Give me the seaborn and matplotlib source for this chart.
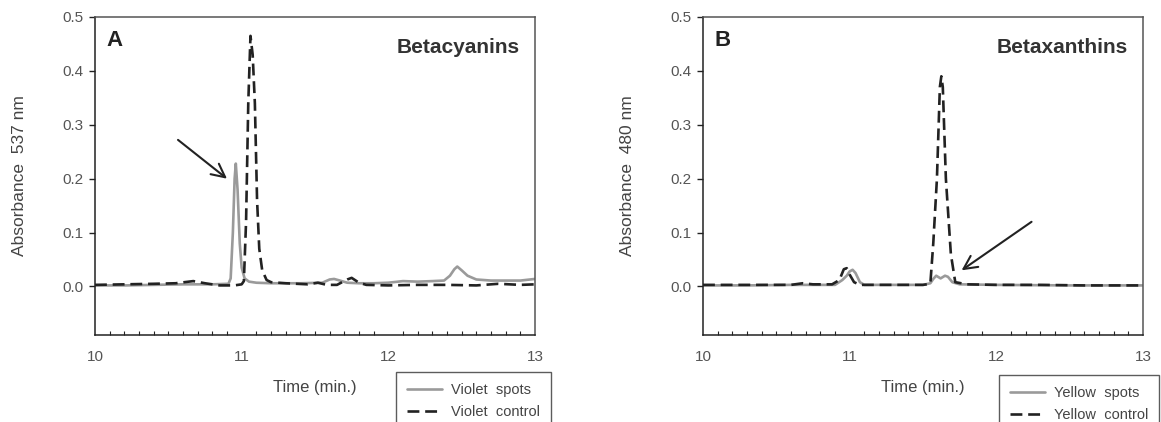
import numpy as np
import pandas as pd
import matplotlib
matplotlib.use('Agg')
import matplotlib.pyplot as plt
from matplotlib.ticker import MultipleLocator
import seaborn as sns

# Panel A - betacyanins, absorbance at 537 nm
t_violet_spots = [10.0, 10.2, 10.4, 10.6, 10.8, 10.91, 10.925, 10.94, 10.952, 10.96, 10.972, 10.987, 11.0,
                  11.02, 11.05, 11.1, 11.2, 11.4, 11.55, 11.6, 11.63, 11.67, 11.72, 11.8, 11.9,
                  12.0, 12.1, 12.2, 12.3, 12.38, 12.42, 12.45, 12.47, 12.5, 12.54, 12.6, 12.7,
                  12.8, 12.9, 13.0]
a_violet_spots = [0.002, 0.002, 0.003, 0.004, 0.004, 0.005, 0.015, 0.1, 0.2, 0.228, 0.18, 0.08, 0.035,
                  0.015, 0.009, 0.007, 0.006, 0.006, 0.007, 0.013, 0.014, 0.011, 0.007, 0.006, 0.006,
                  0.007, 0.01, 0.009, 0.01, 0.011, 0.02, 0.032, 0.037, 0.03, 0.02, 0.013, 0.011,
                  0.011, 0.011, 0.014]

t_violet_control = [10.0, 10.2, 10.4, 10.55, 10.67, 10.75, 10.85, 10.95, 11.0, 11.015, 11.03, 11.045,
                    11.06, 11.075, 11.09, 11.105, 11.12, 11.14, 11.17, 11.2, 11.3, 11.45, 11.52,
                    11.58, 11.65, 11.72, 11.75, 11.8, 11.85, 12.0, 12.2, 12.4, 12.6, 12.75, 12.9, 13.0]
a_violet_control = [0.003, 0.004, 0.005, 0.006, 0.01, 0.006, 0.002, 0.002, 0.004, 0.01, 0.12, 0.34,
                    0.465, 0.43, 0.34, 0.16, 0.07, 0.03, 0.012, 0.008, 0.006, 0.004, 0.007,
                    0.003, 0.003, 0.013, 0.016, 0.007, 0.003, 0.002, 0.003, 0.003, 0.002, 0.005, 0.003, 0.004]

# Panel B - betaxanthins, absorbance at 480 nm
t_yellow_spots = [10.0, 10.3, 10.6, 10.9, 10.95, 10.98, 11.0, 11.02, 11.04, 11.07, 11.1, 11.3, 11.5,
                  11.55, 11.57, 11.59, 11.62, 11.65, 11.67, 11.7, 11.75, 12.0, 12.5, 13.0]
a_yellow_spots = [0.002, 0.002, 0.003, 0.003, 0.012, 0.02, 0.028, 0.031, 0.025, 0.008, 0.003, 0.003, 0.003,
                  0.006, 0.014, 0.02, 0.015, 0.02, 0.018, 0.008, 0.004, 0.003, 0.002, 0.002]

t_yellow_control = [10.0, 10.3, 10.6, 10.68, 10.75, 10.88, 10.93, 10.96, 10.98, 11.0, 11.03, 11.07, 11.3,
                    11.5, 11.55, 11.57, 11.595, 11.615, 11.625, 11.635, 11.656, 11.69, 11.72, 11.8,
                    12.0, 12.3, 12.6, 13.0]
a_yellow_control = [0.003, 0.003, 0.003, 0.006, 0.004, 0.004, 0.012, 0.032, 0.034, 0.022, 0.008, 0.003, 0.003,
                    0.003, 0.005, 0.08, 0.2, 0.37, 0.39, 0.37, 0.2, 0.06, 0.008, 0.004,
                    0.003, 0.003, 0.002, 0.002]

panels = [
    dict(letter='A', title='Betacyanins', ylabel='Absorbance  537 nm',
         spots=(t_violet_spots, a_violet_spots), control=(t_violet_control, a_violet_control),
         labels=('Violet  spots', 'Violet  control'),
         arrow=((10.566, 0.272), (10.90, 0.20)), left=95, legend_xy=(396, 372)),
    dict(letter='B', title='Betaxanthins', ylabel='Absorbance  480 nm',
         spots=(t_yellow_spots, a_yellow_spots), control=(t_yellow_control, a_yellow_control),
         labels=('Yellow  spots', 'Yellow  control'),
         arrow=((12.24, 0.12), (11.763, 0.03)), left=703, legend_xy=(999, 375)),
]

sns.set_style('white')
plt.rcParams['font.family'] = ['Liberation Sans', 'DejaVu Sans']

W, H = 1161, 422
fig = plt.figure(figsize=(W / 100, H / 100), dpi=100)

gray = '#9a9a9a'
dark = '#222222'
text_gray = '#555555'

for p in panels:
    ax = fig.add_axes([p['left'] / W, (H - 335) / H, 440 / W, 318 / H])
    sns.lineplot(x=p['spots'][0], y=p['spots'][1], ax=ax, color=gray, lw=1.9,
                 label=p['labels'][0], estimator=None)
    sns.lineplot(x=p['control'][0], y=p['control'][1], ax=ax, color=dark, lw=1.9,
                 label=p['labels'][1], estimator=None, linestyle=(0, (4.5, 2.2)))

    ax.set_xlim(10, 13)
    ax.set_ylim(-0.09, 0.5)
    ax.set_xticks([10, 11, 12, 13])
    ax.set_xticklabels(['10', '11', '12', '13'], fontsize=11)
    ax.xaxis.set_minor_locator(MultipleLocator(0.1))
    ax.set_yticks([0.0, 0.1, 0.2, 0.3, 0.4, 0.5])
    ax.set_yticklabels(['0.0', '0.1', '0.2', '0.3', '0.4', '0.5'], fontsize=11)

    ax.tick_params(axis='x', which='major', direction='in', length=5, width=1, color=dark,
                   labelcolor=text_gray, pad=11, top=False)
    ax.tick_params(axis='x', which='minor', direction='in', length=3, width=0.8, color=dark,
                   top=False, bottom=True)
    ax.tick_params(axis='y', which='major', direction='out', length=4, width=1, color=dark,
                   labelcolor=text_gray, pad=4, left=True, right=False)

    for side, sp in ax.spines.items():
        sp.set_visible(True)
        sp.set_linewidth(1.1)
        sp.set_color(dark if side in ('left', 'bottom') else '#555555')

    ax.set_xlabel('Time (min.)', fontsize=12, color='#444444')
    ax.xaxis.set_label_coords(0.5, -0.14)
    ax.set_ylabel(p['ylabel'], fontsize=12.5, color='#444444')
    ax.yaxis.set_label_coords(-0.155, 0.5)

    ax.text(0.027, 0.925, p['letter'], transform=ax.transAxes, fontsize=16, fontweight='bold',
            color='#222222', ha='left', va='center')
    ax.text(0.966, 0.905, p['title'], transform=ax.transAxes, fontsize=15, fontweight='bold',
            color='#333333', ha='right', va='center')

    (x0, y0), (x1, y1) = p['arrow']
    ax.annotate('', xy=(x1, y1), xytext=(x0, y0),
                arrowprops=dict(arrowstyle='->', color='#222222', lw=1.5,
                                mutation_scale=24, shrinkA=0, shrinkB=0))

    lx, ly = p['legend_xy']
    leg = ax.legend(loc='upper left', bbox_to_anchor=(lx / W, 1 - ly / H),
                    bbox_transform=fig.transFigure, borderaxespad=0, frameon=True,
                    fancybox=False, edgecolor='#333333', fontsize=10.5, handlelength=2.4,
                    handletextpad=0.6, labelspacing=0.55, borderpad=0.75)
    leg.get_frame().set_linewidth(1.0)
    for txt in leg.get_texts():
        txt.set_color('#444444')

fig.savefig('out.png', dpi=100)
